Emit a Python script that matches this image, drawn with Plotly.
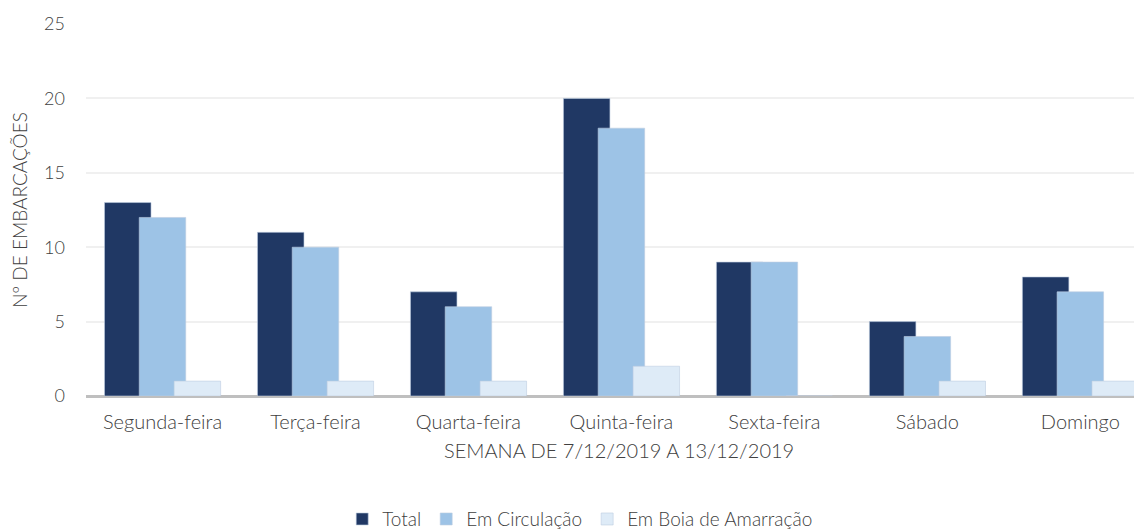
import plotly.graph_objects as go

days = ["Segunda-feira", "Terça-feira", "Quarta-feira", "Quinta-feira", "Sexta-feira", "Sábado", "Domingo"]
total = [13, 11, 7, 20, 9, 5, 8]
circulacao = [12, 10, 6, 18, 9, 4, 7]
boia = [1, 1, 1, 2, 0, 1, 1]

series_names = ["Total", "Em Circulação", "Em Boia de Amarração"]
colors = ["#203864", "#9dc3e6", "#deebf7"]
offsets = [-0.379, -0.152, 0.076]
bar_w = 0.304

FONT = "Lato"
TXT = "#404040"

def f(size):
    return dict(family=FONT, size=size, color=TXT, weight=300)

fig = go.Figure()
for name, vals, col, off in zip(series_names, [total, circulacao, boia], colors, offsets):
    fig.add_trace(go.Bar(
        x=days, y=vals, name=name,
        marker=dict(color=col, line=dict(color="rgba(190,205,225,0.6)", width=1)),
        width=bar_w, offset=off,
    ))

fig.update_layout(
    width=1134, height=522,
    barmode="overlay",
    plot_bgcolor="white", paper_bgcolor="white",
    margin=dict(l=78, r=0, t=16, b=134, autoexpand=False),
    font=f(18),
    showlegend=True,
    legend=dict(orientation="h", x=0.468, xanchor="center", y=-0.331, yanchor="middle",
                font=f(19), itemwidth=30, traceorder="normal"),
    xaxis=dict(
        type="category", range=[-0.5, 6.403], automargin=False,
        showgrid=False, ticks="", showline=False, zeroline=False,
        ticklabelstandoff=12, tickfont=f(20),
    ),
    yaxis=dict(
        range=[0, 25], dtick=5, showgrid=True, gridcolor="#f0f0f0", gridwidth=2,
        zeroline=True, zerolinecolor="#bfbfbf", zerolinewidth=3, automargin=False,
        showline=False, ticks="", ticklabelstandoff=20, tickfont=f(18),
        title=dict(text="Nº DE EMBARCAÇÕES", standoff=17, font=f(19)),
    ),
    annotations=[dict(
        text="SEMANA DE 7/12/2019 A 13/12/2019", xref="paper", yref="paper",
        x=0.505, y=-0.145, xanchor="center", yanchor="middle", showarrow=False,
        font=f(20),
    )],
)

fig.write_html("out.html")
